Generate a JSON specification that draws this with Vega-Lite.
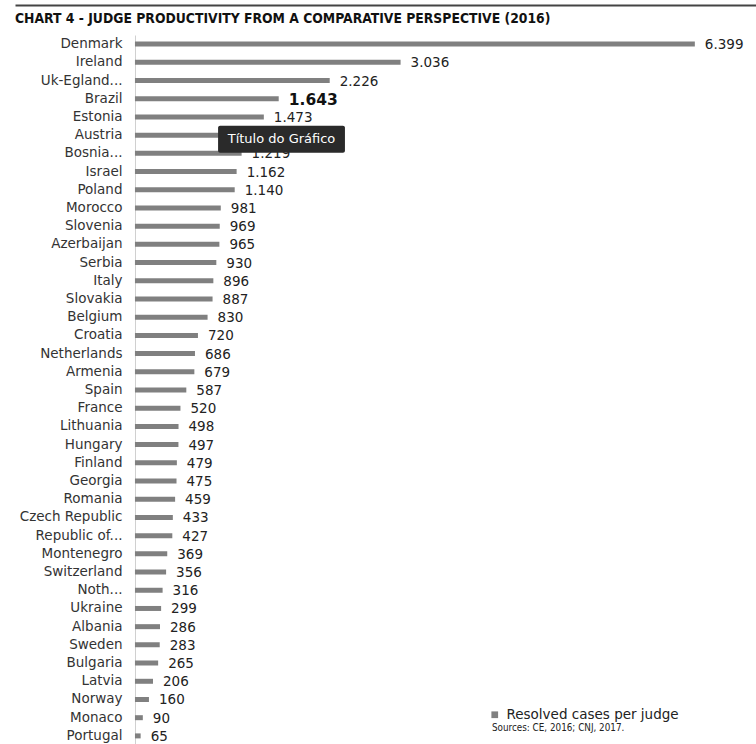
{
  "$schema": "https://vega.github.io/schema/vega-lite/v6.json",
  "autosize": "none",
  "width": 741,
  "height": 710,
  "padding": {"left": 15, "top": 35, "right": 0, "bottom": 0},
  "background": "white",
  "title": {
    "text": "CHART 4 - JUDGE PRODUCTIVITY FROM A COMPARATIVE PERSPECTIVE (2016)",
    "anchor": "start",
    "frame": "group",
    "font": "DejaVu Sans Condensed",
    "fontWeight": "bold",
    "fontSize": 13.8,
    "color": "#111111",
    "offset": -21
  },
  "config": {
    "view": {"stroke": null},
    "locale": {"number": {"decimal": ",", "thousands": ".", "grouping": [3], "currency": ["", ""]}},
    "font": "DejaVu Sans"
  },
  "data": {
    "values": [
      {"country": "Denmark", "value": 6399},
      {"country": "Ireland", "value": 3036},
      {"country": "Uk-Egland...", "value": 2226},
      {"country": "Brazil", "value": 1643},
      {"country": "Estonia", "value": 1473},
      {"country": "Austria", "value": 1321},
      {"country": "Bosnia...", "value": 1219},
      {"country": "Israel", "value": 1162},
      {"country": "Poland", "value": 1140},
      {"country": "Morocco", "value": 981},
      {"country": "Slovenia", "value": 969},
      {"country": "Azerbaijan", "value": 965},
      {"country": "Serbia", "value": 930},
      {"country": "Italy", "value": 896},
      {"country": "Slovakia", "value": 887},
      {"country": "Belgium", "value": 830},
      {"country": "Croatia", "value": 720},
      {"country": "Netherlands", "value": 686},
      {"country": "Armenia", "value": 679},
      {"country": "Spain", "value": 587},
      {"country": "France", "value": 520},
      {"country": "Lithuania", "value": 498},
      {"country": "Hungary", "value": 497},
      {"country": "Finland", "value": 479},
      {"country": "Georgia", "value": 475},
      {"country": "Romania", "value": 459},
      {"country": "Czech Republic", "value": 433},
      {"country": "Republic of...", "value": 427},
      {"country": "Montenegro", "value": 369},
      {"country": "Switzerland", "value": 356},
      {"country": "Noth...", "value": 316},
      {"country": "Ukraine", "value": 299},
      {"country": "Albania", "value": 286},
      {"country": "Sweden", "value": 283},
      {"country": "Bulgaria", "value": 265},
      {"country": "Latvia", "value": 206},
      {"country": "Norway", "value": 160},
      {"country": "Monaco", "value": 90},
      {"country": "Portugal", "value": 65}
    ]
  },
  "encoding": {
    "y": {
      "field": "country",
      "type": "nominal",
      "sort": null,
      "axis": {
        "title": null,
        "orient": "left",
        "offset": -120,
        "ticks": false,
        "labelPadding": 13,
        "labelFontSize": 13.5,
        "labelColor": "#333333",
        "labelFont": "DejaVu Sans",
        "domainColor": "#d0d0d0",
        "domainWidth": 1,
        "grid": false
      }
    }
  },
  "layer": [
    {
      "mark": {"type": "bar", "size": 5},
      "encoding": {
        "x": {
          "field": "value",
          "type": "quantitative",
          "scale": {"domain": [-1371, 7098], "nice": false, "zero": false},
          "axis": {
            "orient": "top",
            "offset": 30,
            "title": null,
            "labels": false,
            "ticks": false,
            "grid": false,
            "domainColor": "#444444",
            "domainWidth": 2
          }
        },
        "x2": {"datum": 0},
        "color": {
          "datum": "Resolved cases per judge",
          "scale": {"range": ["#808080"]},
          "legend": {
            "orient": "none",
            "legendX": 477,
            "legendY": 673,
            "title": "Sources: CE, 2016; CNJ, 2017.",
            "titleOrient": "bottom",
            "titleFont": "DejaVu Sans Condensed",
            "titleFontSize": 9.8,
            "titleFontWeight": "normal",
            "titleColor": "#222222",
            "titlePadding": 2,
            "symbolType": "square",
            "symbolSize": 45,
            "symbolStrokeWidth": 0,
            "symbolOffset": -4,
            "labelFontSize": 13.5,
            "labelColor": "#222222",
            "labelOffset": 5,
            "labelLimit": 400
          }
        }
      }
    },
    {
      "transform": [{"filter": "datum.country !== 'Brazil'"}],
      "mark": {"type": "text", "align": "left", "baseline": "middle", "dx": 10, "dy": 1, "fontSize": 13.5, "color": "#222222"},
      "encoding": {
        "x": {"field": "value", "type": "quantitative"},
        "text": {"field": "value", "type": "quantitative", "format": ","}
      }
    },
    {
      "transform": [{"filter": "datum.country === 'Brazil'"}],
      "mark": {"type": "text", "align": "left", "baseline": "middle", "dx": 10, "dy": 1, "fontSize": 15.5, "fontWeight": "bold", "color": "#111111"},
      "encoding": {
        "x": {"field": "value", "type": "quantitative"},
        "text": {"field": "value", "type": "quantitative", "format": ","}
      }
    },
    {
      "transform": [{"filter": "datum.country === 'Austria'"}],
      "mark": {"type": "bar", "size": 27, "yOffset": 4, "color": "#2a2a2a", "cornerRadius": 2},
      "encoding": {
        "x": {"datum": 950},
        "x2": {"datum": 2400}
      }
    },
    {
      "transform": [{"filter": "datum.country === 'Austria'"}],
      "mark": {"type": "text", "text": "Título do Gráfico", "align": "center", "baseline": "middle", "yOffset": 4, "fontSize": 13, "color": "#ffffff"},
      "encoding": {
        "x": {"datum": 1675}
      }
    }
  ]
}
